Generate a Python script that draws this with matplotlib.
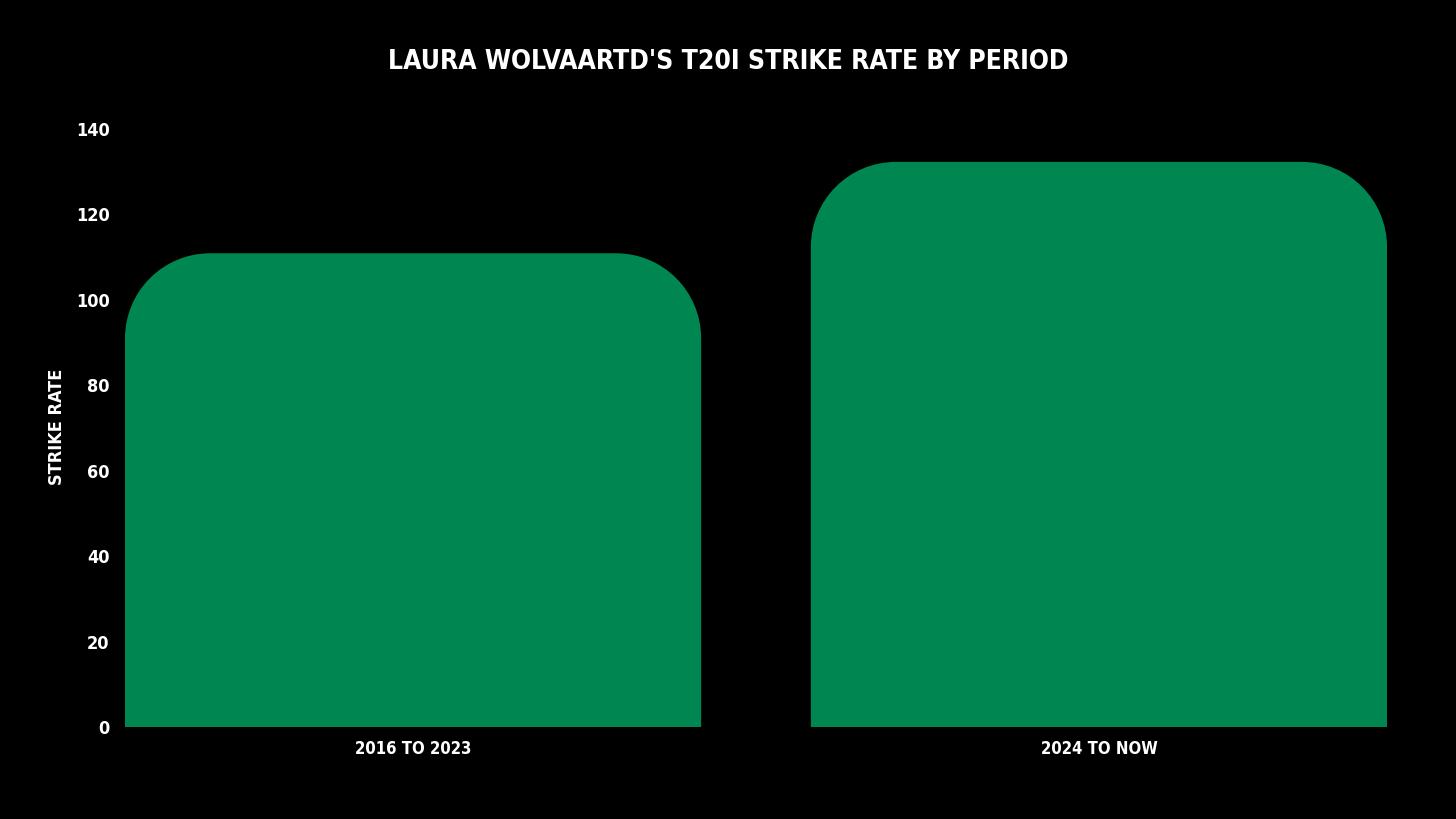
import matplotlib
matplotlib.use("Agg")
import matplotlib.pyplot as plt
from matplotlib.path import Path
from matplotlib.patches import PathPatch
from matplotlib import font_manager as fm

categories = ["2016 TO 2023", "2024 TO NOW"]
strike_rate = [110.9, 132.3]
yticks = [0, 20, 40, 60, 80, 100, 120, 140]

GREEN = "#008751"

def fp(size):
    return fm.FontProperties(family=["DejaVu Sans"], weight="bold", stretch="condensed", size=size)

W, H = 1456, 819
fig = plt.figure(figsize=(W / 100, H / 100), dpi=100, facecolor="black")
left, right, bottom, top = 125, 1387, 727, 129
ax = fig.add_axes([left / W, 1 - bottom / H, (right - left) / W, (bottom - top) / H])
ax.set_facecolor("black")
bar_w = 0.84
ax.set_xlim(-bar_w / 2, len(categories) - 1 + bar_w / 2)
ax.set_ylim(0, 140)

ax_w_px = right - left
ax_h_px = bottom - top
r_px = 85
rx = r_px * (ax.get_xlim()[1] - ax.get_xlim()[0]) / ax_w_px
ry = r_px * 140 / ax_h_px
k = 0.5523

def rounded_top_bar(xc, h):
    x0, x1 = xc - bar_w / 2, xc + bar_w / 2
    verts = [
        (x0, 0), (x0, h - ry),
        (x0, h - ry + k * ry), (x0 + rx - k * rx, h), (x0 + rx, h),
        (x1 - rx, h),
        (x1 - rx + k * rx, h), (x1, h - ry + k * ry), (x1, h - ry),
        (x1, 0), (x0, 0),
    ]
    codes = [Path.MOVETO, Path.LINETO,
             Path.CURVE4, Path.CURVE4, Path.CURVE4,
             Path.LINETO,
             Path.CURVE4, Path.CURVE4, Path.CURVE4,
             Path.LINETO, Path.CLOSEPOLY]
    return PathPatch(Path(verts, codes), facecolor=GREEN, edgecolor="none")

for i, v in enumerate(strike_rate):
    ax.add_patch(rounded_top_bar(i, v))

for s in ax.spines.values():
    s.set_visible(False)
ax.set_yticks(yticks)
ax.set_yticklabels([str(t) for t in yticks], fontproperties=fp(13), color="white")
ax.set_xticks(range(len(categories)))
ax.set_xticklabels(categories, fontproperties=fp(12), color="white")
ax.tick_params(axis="both", length=0)
ax.tick_params(axis="y", pad=11)
ax.tick_params(axis="x", pad=9)

fig.text(0.5, 1 - 62 / H, "LAURA WOLVAARTD'S T20I STRIKE RATE BY PERIOD",
         ha="center", va="center", color="white", fontproperties=fp(19))
fig.text(57 / W, 1 - 427 / H, "STRIKE RATE", rotation=90, ha="center", va="center",
         color="white", fontproperties=fp(13))

fig.savefig("out.png", dpi=100, facecolor="black")
